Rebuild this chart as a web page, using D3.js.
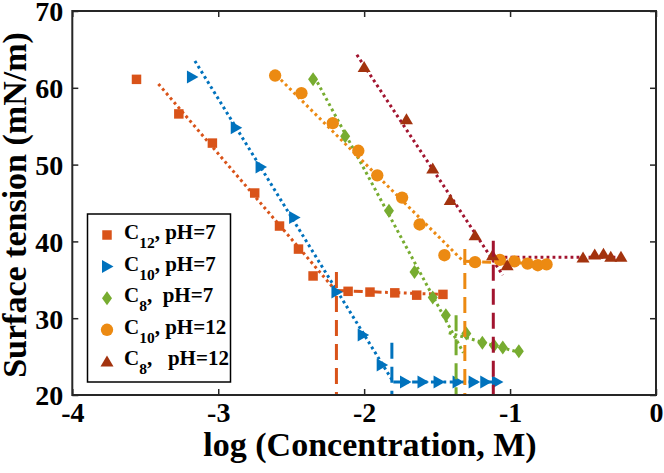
<!DOCTYPE html>
<html>
<head>
<meta charset="utf-8">
<script src="https://cdn.jsdelivr.net/npm/d3@7"></script>
<style>
  html, body { margin: 0; padding: 0; background: #fff; }
  svg { display: block; }
  text { font-family: "Liberation Serif", "Times New Roman", serif; font-weight: bold; fill: #000; white-space: pre; }
</style>
</head>
<body>
<svg id="chart" width="664" height="473"></svg>
<script>
// ---- Data ----
const xTicks = [-4, -3, -2, -1, 0];
const yTicks = [20, 30, 40, 50, 60, 70];

// C12, pH=7 (squares)
const c12x = [-3.56, -3.27, -3.04, -2.75, -2.58, -2.45, -2.35, -2.11, -1.96, -1.79, -1.64, -1.46];
const c12y = [61.1, 56.6, 52.8, 46.3, 42.0, 39.0, 35.5, 33.5, 33.4, 33.3, 33.0, 33.1];
// C10, pH=7 (right triangles)
const c10x = [-3.18, -2.88, -2.71, -2.48, -2.19, -2.01, -1.88, -1.72, -1.60, -1.49, -1.36, -1.25, -1.17, -1.09];
const c10y = [61.4, 54.8, 49.7, 43.1, 33.4, 27.8, 23.9, 21.7, 21.7, 21.7, 21.7, 21.7, 21.7, 21.7];
// C8, pH=7 (diamonds)
const c8x = [-2.35, -2.13, -1.83, -1.655, -1.53, -1.44, -1.30, -1.19, -1.11, -1.05, -0.94];
const c8y = [61.1, 53.7, 44.0, 36.0, 32.7, 30.4, 28.0, 26.8, 26.45, 26.2, 25.7];
// C10, pH=12 (circles)
const c10hx = [-2.61, -2.43, -2.215, -2.04, -1.91, -1.74, -1.62, -1.45, -1.24, -1.07, -0.97, -0.88, -0.81, -0.75];
const c10hy = [61.6, 59.3, 55.4, 51.8, 48.6, 45.7, 42.2, 38.2, 37.3, 37.6, 37.4, 37.1, 36.9, 37.0];
// C8, pH=12 (up triangles)
const c8hx = [-2.00, -1.71, -1.53, -1.41, -1.24, -1.12, -1.02, -0.50, -0.42, -0.36, -0.31, -0.24];
const c8hy = [62.7, 55.9, 49.5, 45.4, 40.8, 38.2, 36.9, 37.9, 38.3, 38.4, 38.0, 38.0];

// Fit lines: [x, y] endpoints
const c12Fit1 = [[-3.41, 60.5], [-2.20, 33.7]];
const c12Fit2 = [[-2.20, 33.6], [-1.45, 33.1]];
const c10Fit1 = [[-3.16, 63.5], [-1.80, 21.7]];
const c10Fit2 = [[-1.80, 21.7], [-1.09, 21.7]];
const c8Fit1 = [[-2.34, 61.4], [-1.32, 25.5]];
const c8Fit2 = [[-1.42, 28.1], [-0.93, 25.5]];
const c10hFit1 = [[-2.60, 61.6], [-1.32, 37.4]];
const c10hFit2 = [[-1.32, 37.4], [-0.75, 37.1]];
const c8hFit1 = [[-2.05, 64.3], [-1.05, 35.6]];
const c8hFit2 = [[-1.12, 37.95], [-0.24, 37.95]];

// CMC markers: [x, top y]
const cmcX = [-2.19, -1.81, -1.37, -1.31, -1.115];
const cmcTop = [36.0, 26.8, 30.4, 39.0, 40.1];

// ---- Drawing ----
const svg = d3.select("#chart");
const L = 72.3, R = 656, T = 11, B = 395;
const x = d3.scaleLinear().domain([-4, 0]).range([L, R]);
const y = d3.scaleLinear().domain([20, 70]).range([B, T]);

const colors = {
  c12: "#D95319", c10: "#0072BD", c8: "#77AC30", c10h: "#EC8A12", c8hLine: "#A2142F", c8hMark: "#A3330E"
};

const line = d3.line().x(d => x(d[0])).y(d => y(d[1]));
const DOT = "2.8,3.2";
const DASHDOT = "9,3.5,2.8,3.5";

function fit(pts, color, dash) {
  svg.append("path").attr("d", line(pts)).attr("fill", "none")
    .attr("stroke", color).attr("stroke-width", 3).attr("stroke-dasharray", dash);
}

fit(c12Fit1, colors.c12, DOT);
fit(c12Fit2, colors.c12, DASHDOT);
fit(c10Fit1, colors.c10, DOT);
fit(c10Fit2, colors.c10, DASHDOT);
fit(c8Fit1, colors.c8, DOT);
fit(c8Fit2, colors.c8, DOT);
fit(c10hFit1, colors.c10h, DOT);
fit(c10hFit2, colors.c10h, DASHDOT);
fit(c8hFit1, colors.c8hLine, DOT);
fit(c8hFit2, colors.c8hLine, DOT);

const sym = {
  square: d3.symbol().type(d3.symbolSquare).size(90)(),
  circle: d3.symbol().type(d3.symbolCircle).size(120)(),
  diamond: "M0,-7L5,0L0,7L-5,0Z",
  right: "M-5,-6.5L6.5,0L-5,6.5Z",
  up: "M0,-6L6.5,5L-6.5,5Z"
};

function markers(xs, ys, shape, color) {
  svg.append("g").selectAll("path").data(xs.map((v, i) => [v, ys[i]])).join("path")
    .attr("d", sym[shape]).attr("fill", color)
    .attr("transform", d => `translate(${x(d[0])},${y(d[1])})`);
}

markers(c12x, c12y, "square", colors.c12);
markers(c10x, c10y, "right", colors.c10);
markers(c8x, c8y, "diamond", colors.c8);
markers(c10hx, c10hy, "circle", colors.c10h);
markers(c8hx, c8hy, "up", colors.c8hMark);

const cmcColors = [colors.c12, colors.c10, colors.c8, colors.c10h, colors.c8hLine];
cmcX.forEach((cx, i) => {
  svg.append("line").attr("x1", x(cx)).attr("x2", x(cx)).attr("y1", y(cmcTop[i])).attr("y2", y(20))
    .attr("stroke", cmcColors[i]).attr("stroke-width", 3).attr("stroke-dasharray", "16,8");
});

// Axes
const axisColor = "#262626";
const gx = svg.append("g").attr("transform", `translate(0,${B})`)
  .call(d3.axisBottom(x).tickValues(xTicks).tickFormat(d => String(d)).tickSizeInner(-6).tickSizeOuter(0).tickPadding(7));
const gy = svg.append("g").attr("transform", `translate(${L},0)`)
  .call(d3.axisLeft(y).tickValues(yTicks).tickFormat(d => String(d)).tickSizeInner(-6).tickSizeOuter(0).tickPadding(9));
const gt = svg.append("g").attr("transform", `translate(0,${T})`)
  .call(d3.axisTop(x).tickValues(xTicks).tickFormat("").tickSizeInner(-6).tickSizeOuter(0));
const gr = svg.append("g").attr("transform", `translate(${R},0)`)
  .call(d3.axisRight(y).tickValues(yTicks).tickFormat("").tickSizeInner(-6).tickSizeOuter(0));
[gx, gy, gt, gr].forEach(g => {
  g.select(".domain").remove();
  g.selectAll("line").attr("stroke", axisColor).attr("stroke-width", 1.5);
  g.selectAll("text").attr("font-family", "Liberation Serif").attr("font-weight", "bold")
    .attr("font-size", 28).attr("fill", "#000");
});
gy.selectAll("text").attr("dy", "0.35em");
svg.append("rect").attr("x", L).attr("y", T).attr("width", R - L).attr("height", B - T)
  .attr("fill", "none").attr("stroke", axisColor).attr("stroke-width", 2);

// Axis labels
svg.append("text").attr("x", 370).attr("y", 456).attr("text-anchor", "middle")
  .attr("font-size", 34).text("log (Concentration, M)");
svg.append("text").attr("transform", `translate(26,${205}) rotate(-90)`).attr("text-anchor", "middle")
  .attr("font-size", 34).text("Surface tension (mN/m)");

// Legend
const legendItems = [
  { sub: "12", rest: ", pH=7", shape: "square", color: colors.c12 },
  { sub: "10", rest: ", pH=7", shape: "right", color: colors.c10 },
  { sub: "8", rest: ",  pH=7", shape: "diamond", color: colors.c8 },
  { sub: "10", rest: ", pH=12", shape: "circle", color: colors.c10h },
  { sub: "8", rest: ",   pH=12", shape: "up", color: colors.c8hMark }
];
const lg = svg.append("g");
lg.append("rect").attr("x", 87.5).attr("y", 214).attr("width", 143).attr("height", 168)
  .attr("fill", "#fff").attr("stroke", "#000").attr("stroke-width", 1.5);
legendItems.forEach((it, i) => {
  const cy = 235 + i * 31.6;
  lg.append("path").attr("d", sym[it.shape]).attr("fill", it.color)
    .attr("transform", `translate(107,${cy})`);
  const t = lg.append("text").attr("x", 124).attr("y", cy + 4).attr("font-size", 21);
  t.append("tspan").text("C");
  t.append("tspan").attr("dy", 9).attr("font-size", 15.5).text(it.sub);
  t.append("tspan").attr("dy", -9).text(it.rest);
});
</script>
</body>
</html>
